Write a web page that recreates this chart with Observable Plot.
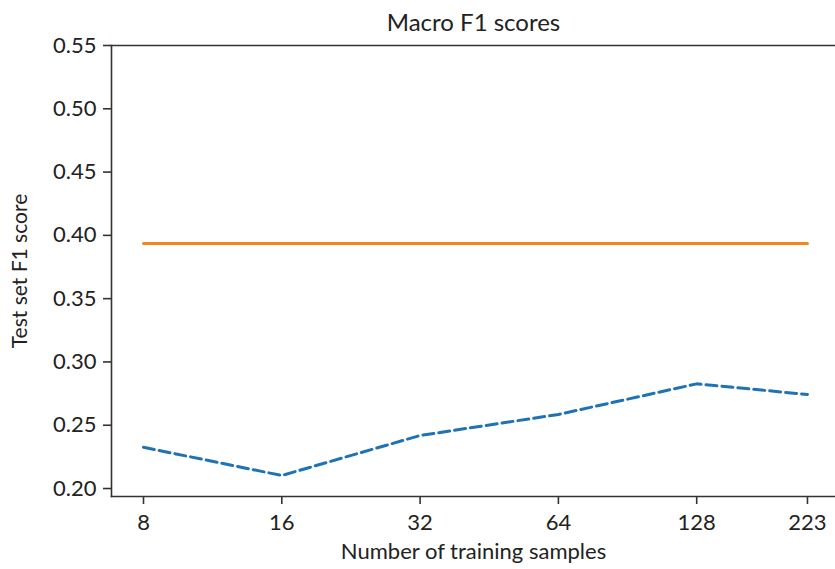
<!DOCTYPE html>
<html>
<head>
<meta charset="utf-8">
<script src="https://cdn.jsdelivr.net/npm/d3@7"></script>
<script src="https://cdn.jsdelivr.net/npm/@observablehq/plot@0.6"></script>
<style>
  html, body { margin: 0; padding: 0; background: #fff; }
  #chart svg { display: block; }
</style>
</head>
<body>
<div id="chart"></div>
<script>
// ---- data ----
const samples = [8, 16, 32, 64, 128, 223];
const zeroShot = [0.3935, 0.3935, 0.3935, 0.3935, 0.3935, 0.3935];
const fewShot = [0.2326, 0.2103, 0.2419, 0.2585, 0.2827, 0.2743];
const yTicks = [0.20, 0.25, 0.30, 0.35, 0.40, 0.45, 0.50, 0.55];
const titleText = "Macro F1 scores";
const xLabel = "Number of training samples";
const yLabel = "Test set F1 score";

const rowsZero = samples.map((s, i) => ({s, v: zeroShot[i]}));
const rowsFew = samples.map((s, i) => ({s, v: fewShot[i]}));

const font = "Lato, 'Open Sans', sans-serif";

const chart = Plot.plot({
  width: 835,
  height: 569,
  marginLeft: 111,
  marginRight: 0,
  marginTop: 45,
  marginBottom: 73,
  style: {fontFamily: font, fontSize: "21px", color: "#222", background: "#fff"},
  x: {type: "log", base: 2, domain: [Math.pow(2, 2.7686), Math.pow(2, 8.0036)], label: null},
  y: {domain: [0.1937, 0.55], label: null},
  marks: [
    Plot.line(rowsZero, {x: "s", y: "v", stroke: "#f7861a", strokeWidth: 3}),
    Plot.line(rowsFew, {x: "s", y: "v", stroke: "#1f72b4", strokeWidth: 3, strokeDasharray: "11,5"}),
    // spines (right spine lies outside the cropped picture)
    Plot.frame({anchor: "left", stroke: "#333", strokeWidth: 1.6}),
    Plot.frame({anchor: "top", stroke: "#333", strokeWidth: 1.6}),
    Plot.frame({anchor: "bottom", stroke: "#333", strokeWidth: 1.6}),
    Plot.axisY(yTicks, {tickSize: 8, tickPadding: 7, tickFormat: d3.format(".2f"), stroke: "#333", strokeWidth: 1.6, fontSize: 22, label: null}),
    Plot.axisX(samples, {tickSize: 8, tickPadding: 10, tickFormat: d => String(d), stroke: "#333", strokeWidth: 1.6, fontSize: 22, label: null}),
    Plot.text([titleText], {frameAnchor: "top", dy: -32, fontSize: 24, fill: "#222"}),
    Plot.text([xLabel], {frameAnchor: "bottom", dy: 62, fontSize: 22, fill: "#222"}),
    Plot.text([yLabel], {frameAnchor: "left", textAnchor: "middle", dx: -91, rotate: -90, fontSize: 21, fill: "#222"})
  ]
});
document.getElementById("chart").appendChild(chart);
</script>
</body>
</html>
